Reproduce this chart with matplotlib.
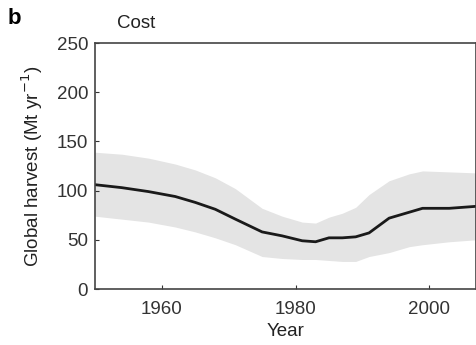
import numpy as np
from matplotlib import pyplot as plt

plt.rcParams['font.family'] = ['Liberation Sans', 'DejaVu Sans']

# median harvest line
years = [1950, 1954, 1958, 1962, 1965, 1968, 1971, 1975, 1978, 1981, 1983, 1985, 1987, 1989, 1991, 1994, 1997, 1999, 2003, 2007]
median = [106, 103, 99, 94, 88, 81, 71, 58, 54, 49, 48, 52, 52, 53, 57, 72, 78, 82, 82, 84]

# uncertainty band
band_years = [1950, 1954, 1958, 1962, 1965, 1968, 1971, 1975, 1978, 1981, 1983, 1985, 1987, 1989, 1991, 1994, 1997, 1999, 2003, 2007]
upper = [139, 137, 133, 127, 121, 113, 102, 82, 74, 68, 67, 73, 77, 83, 96, 110, 117, 120, 119, 118]
lower = [74, 71, 68, 63, 58, 52, 45, 33, 31, 30, 30, 29, 28, 28, 33, 37, 43, 45, 48, 50]

fig = plt.figure(figsize=(4.77, 3.45), dpi=100)
ax = fig.add_axes([95 / 477, 1 - 289 / 345, 381 / 477, 246 / 345])

ax.fill_between(band_years, lower, upper, color='#e4e4e4', lw=0)
ax.plot(years, median, color='#1a1a1a', lw=2, solid_joinstyle='round')

ax.set_xlim(1950, 2007)
ax.set_ylim(0, 250)
ax.set_xticks([1960, 1980, 2000])
ax.set_yticks([0, 50, 100, 150, 200, 250])
ax.tick_params(direction='in', length=3, labelsize=13.5, colors='#333333', width=0.8, pad=5)
ax.tick_params(axis='x', pad=9)
for s in ax.spines.values():
    s.set_color('#444444')
    s.set_linewidth(1.2)

ax.set_xlabel('Year', fontsize=13.5, color='#222222', labelpad=3)
ax.set_ylabel('Global harvest (Mt yr$^{-1}$)', fontsize=13.5, color='#222222', labelpad=8)

fig.text(8 / 477, 1 - 19 / 345, 'b', fontsize=16, fontweight='bold', va='center')
fig.text(117 / 477, 1 - 24 / 345, 'Cost', fontsize=13.5, color='#222222', va='center')

fig.savefig('out.png', dpi=100)
